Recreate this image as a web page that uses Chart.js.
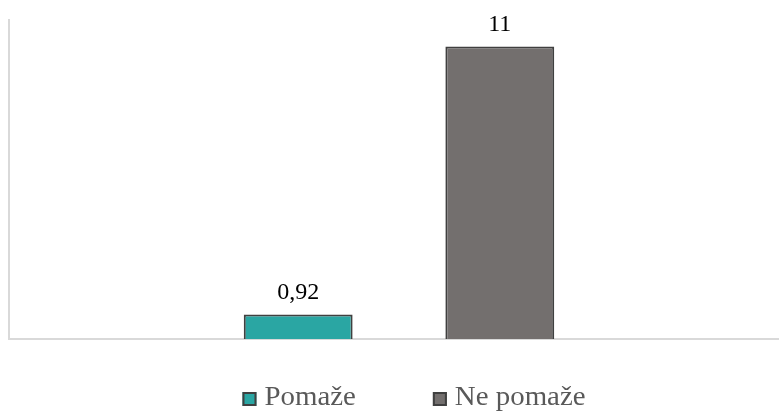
<!DOCTYPE html>
<html><head><meta charset="utf-8">
<script src="https://cdn.jsdelivr.net/npm/chart.js@4/dist/chart.umd.min.js"></script>
<style>html,body{margin:0;padding:0;overflow:hidden;background:#fff}#wrap{width:789px;height:412px}</style>
</head><body><div id="wrap"><canvas id="c"></canvas></div>
<script>
const categories = [""];
const seriesNames = ["Pomaže", "Ne pomaže"];
const pomaze = [0.92];
const nePomaze = [11];
const valueLabels = [["0,92"], ["11"]];
const yMin = 0, yMax = 12;
const seriesColors = ['#2AA6A3', '#736F6E'];

const labelPlugin = {
  id: 'valLabels',
  afterDatasetsDraw(chart) {
    const ctx = chart.ctx;
    ctx.save();
    ctx.font = '24px "Liberation Serif"';
    ctx.fillStyle = '#000';
    ctx.textAlign = 'center';
    ctx.textBaseline = 'alphabetic';
    chart.data.datasets.forEach((ds, i) => {
      chart.getDatasetMeta(i).data.forEach((bar, j) => {
        ctx.fillText(valueLabels[i][j], bar.x, bar.y - 16);
      });
    });
    ctx.restore();
  }
};

const legendPlugin = {
  id: 'customLegend',
  afterDraw(chart) {
    const ctx = chart.ctx;
    ctx.save();
    const sx = 1.05;
    ctx.font = '27.5px "Liberation Serif"';
    const box = 14, gapBoxText = 8, gapItems = 77;
    const widths = seriesNames.map(n => ctx.measureText(n).width * sx);
    let total = 0;
    widths.forEach((w, i) => { total += box + gapBoxText + w + (i ? gapItems : 0); });
    const cx = (chart.chartArea.left + chart.chartArea.right) / 2 + 15;
    let x = cx - total / 2;
    const yTop = 392;
    seriesNames.forEach((n, i) => {
      ctx.fillStyle = seriesColors[i];
      ctx.fillRect(x, yTop, box, box);
      ctx.strokeStyle = '#404040';
      ctx.lineWidth = 2;
      ctx.strokeRect(x + 1, yTop + 1, box - 2, box - 2);
      ctx.save();
      ctx.translate(x + box + gapBoxText, 0);
      ctx.scale(sx, 1);
      ctx.fillStyle = '#595959';
      ctx.textBaseline = 'alphabetic';
      ctx.textAlign = 'left';
      ctx.fillText(n, 0, 405);
      ctx.restore();
      x += box + gapBoxText + widths[i] + gapItems;
    });
    ctx.restore();
  }
};

new Chart(document.getElementById('c'), {
  type: 'bar',
  data: {
    labels: categories,
    datasets: [
      { label: seriesNames[0], data: pomaze, backgroundColor: seriesColors[0], borderColor: '#404040', borderWidth: 2, borderSkipped: 'bottom' },
      { label: seriesNames[1], data: nePomaze, backgroundColor: seriesColors[1], borderColor: '#404040', borderWidth: 2, borderSkipped: 'bottom' }
    ]
  },
  options: {
    responsive: true, maintainAspectRatio: false, animation: false,
    layout: { padding: { top: 20, left: 1, right: 0, bottom: 65 } },
    datasets: { bar: { categoryPercentage: 0.517, barPercentage: 0.54 } },
    scales: {
      x: { grid: { display: false }, ticks: { display: false }, border: { color: '#d9d9d9', width: 2 } },
      y: { min: yMin, max: yMax, grid: { display: false }, ticks: { display: false }, border: { color: '#d9d9d9', width: 2 } }
    },
    plugins: {
      tooltip: { enabled: false },
      legend: { display: false }
    }
  },
  plugins: [labelPlugin, legendPlugin]
});
</script></body></html>
